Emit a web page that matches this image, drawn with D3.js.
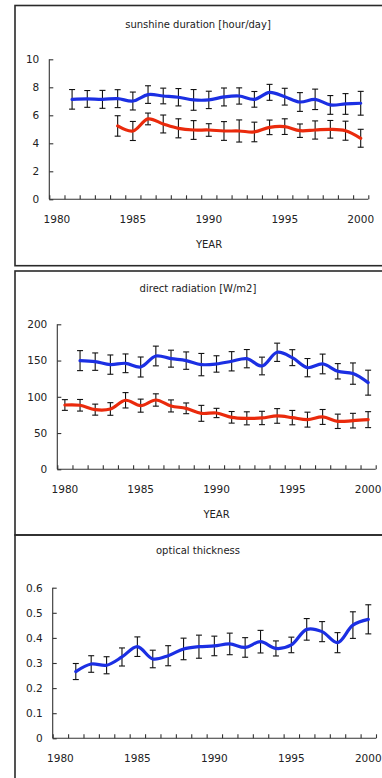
<!DOCTYPE html>
<html>
<head>
<meta charset="utf-8">
<script src="https://cdn.jsdelivr.net/npm/d3@7"></script>
<style>
	body { margin: 0; background: #fff; }
	svg { display: block; }
	text { font-family: 'DejaVu Sans', sans-serif; fill: #222; }
</style>
</head>
<body>
<svg id="chart" width="382" height="778"></svg>
<script>

// categories (Excel style category axis, 1980..2000)
var years = [1980, 1981, 1982, 1983, 1984, 1985, 1986, 1987, 1988, 1989, 1990,
	1991, 1992, 1993, 1994, 1995, 1996, 1997, 1998, 1999, 2000]
var yearLabels = [1980, 1985, 1990, 1995, 2000]

// sunshine duration [hour/day]
var sunBlue = [null, 7.14, 7.17, 7.14, 7.19, 7.02, 7.48, 7.38, 7.29, 7.10, 7.10,
	7.31, 7.38, 7.14, 7.64, 7.33, 6.95, 7.14, 6.74, 6.81, 6.86]
var sunBlueErr = [null, 0.70, 0.60, 0.64, 0.64, 0.64, 0.63, 0.56, 0.62, 0.74, 0.62,
	0.64, 0.58, 0.56, 0.57, 0.60, 0.67, 0.73, 0.67, 0.74, 0.85]
var sunRed = [null, null, null, null, 5.24, 4.88, 5.74, 5.38, 5.07, 4.95, 4.95,
	4.88, 4.88, 4.81, 5.14, 5.19, 4.90, 4.95, 5.00, 4.90, 4.36]
var sunRedErr = [null, null, null, null, 0.73, 0.68, 0.42, 0.64, 0.68, 0.67, 0.45,
	0.67, 0.79, 0.70, 0.52, 0.56, 0.48, 0.65, 0.63, 0.68, 0.64]
var sunTicks = [0, 2, 4, 6, 8, 10]

// direct radiation [W/m2]
var radBlue = [null, 149.9, 148.5, 144.4, 146.2, 141.1, 156.3, 152.6, 149.9, 144.4, 145.3,
	149.0, 152.6, 142.5, 161.4, 154.0, 140.2, 145.3, 135.2, 132.0, 119.5]
var radBlueErr = [null, 13.8, 12.0, 13.3, 12.9, 13.8, 13.6, 11.7, 12.0, 15.4, 11.3,
	13.3, 12.6, 12.2, 12.6, 11.0, 12.6, 13.6, 10.6, 14.7, 17.2]
var radRed = [88.7, 88.3, 82.3, 83.2, 95.2, 87.8, 95.6, 87.4, 84.1, 77.2, 77.7,
	71.7, 70.3, 70.8, 73.6, 71.3, 68.5, 72.2, 66.2, 67.1, 68.5]
var radRedErr = [7.4, 8.0, 7.6, 8.7, 10.6, 9.0, 8.5, 8.3, 7.4, 11.0, 6.4,
	8.0, 9.0, 9.2, 10.1, 9.9, 10.3, 10.3, 9.9, 10.1, 11.0]
var radTicks = [0, 50, 100, 150, 200]

// optical thickness
var optBlue = [null, 0.266, 0.296, 0.291, 0.324, 0.365, 0.316, 0.329, 0.356, 0.365, 0.368,
	0.376, 0.362, 0.385, 0.358, 0.372, 0.434, 0.425, 0.381, 0.451, 0.474]
var optBlueErr = [null, 0.032, 0.033, 0.034, 0.036, 0.039, 0.035, 0.040, 0.043, 0.046, 0.039,
	0.043, 0.039, 0.045, 0.030, 0.031, 0.043, 0.040, 0.040, 0.053, 0.058]
var optTicks = [0, 0.1, 0.2, 0.3, 0.4, 0.5, 0.6]

var BLUE = '#1b2fe3'
var RED = '#ea2a0c'

var svg = d3.select('#chart')

var draw_panel = function(p)
{
	// frame of the panel
	svg.append('rect')
		.attr('x', 15).attr('y', p.boxTop)
		.attr('width', 400).attr('height', p.boxBottom - p.boxTop)
		.attr('fill', 'none').attr('stroke', '#2a2a2a').attr('stroke-width', 1.6)

	svg.append('text')
		.attr('x', 198).attr('y', p.titleY)
		.attr('text-anchor', 'middle')
		.style('font-size', '10px')
		.text(p.title)

	var x = d3.scaleBand().domain(years).range([p.left, p.right]).padding(0)
	var xEdge = d3.scaleLinear().domain([0, years.length]).range([p.left, p.right])
	var y = d3.scaleLinear().domain([0, p.yTicks[p.yTicks.length - 1]]).range([p.bottom, p.top])

	var g = svg.append('g')

	// x axis: tick marks between categories, labels every 5 years
	var xAxis = g.append('g')
		.attr('transform', 'translate(0,' + p.bottom + ')')
		.call(d3.axisBottom(xEdge).tickValues(d3.range(0, years.length + 1)).tickSize(-4).tickFormat(''))
	xAxis.select('.domain').attr('d', 'M' + p.left + ',0H' + p.right)

	var xLab = g.append('g')
		.attr('transform', 'translate(0,' + p.bottom + ')')
		.call(d3.axisBottom(x).tickValues(yearLabels).tickSize(0).tickPadding(16))
	xLab.select('.domain').remove()

	var yAxis = g.append('g')
		.attr('transform', 'translate(' + p.left + ',0)')
		.call(d3.axisLeft(y).tickValues(p.yTicks).tickSize(-4).tickPadding(10).tickFormat(d3.format('')))
	yAxis.select('.domain').attr('d', 'M0,' + p.top + 'V' + p.bottom)

	g.selectAll('.tick line, .domain').attr('stroke', '#333').attr('stroke-width', 1.1)
	g.selectAll('.tick text').style('font-size', '10.5px').attr('fill', '#222').style('font-family', "'DejaVu Sans', sans-serif")

	if (p.xTitleY)
	{
		svg.append('text')
			.attr('x', p.xTitleX).attr('y', p.xTitleY)
			.attr('text-anchor', 'middle')
			.style('font-size', '10px')
			.text('YEAR')
	}

	var cx = function(i) { return x(years[i]) + x.bandwidth() / 2 }

	p.series.forEach(function(s)
	{
		var pts = []
		for (var i = 0; i < years.length; i++)
		{
			if (s.values[i] == null) continue
			pts.push({i: i, v: s.values[i], e: s.err[i]})
		}

		// error bars
		var bars = g.append('g')
		bars.selectAll('line.bar').data(pts).enter().append('line')
			.attr('x1', d => cx(d.i)).attr('x2', d => cx(d.i))
			.attr('y1', d => y(d.v - d.e)).attr('y2', d => y(d.v + d.e))
			.attr('stroke', '#111').attr('stroke-width', 1.1)
		bars.selectAll('line.capt').data(pts).enter().append('line')
			.attr('x1', d => cx(d.i) - 3).attr('x2', d => cx(d.i) + 3)
			.attr('y1', d => y(d.v + d.e)).attr('y2', d => y(d.v + d.e))
			.attr('stroke', '#111').attr('stroke-width', 1.1)
		bars.selectAll('line.capb').data(pts).enter().append('line')
			.attr('x1', d => cx(d.i) - 3).attr('x2', d => cx(d.i) + 3)
			.attr('y1', d => y(d.v - d.e)).attr('y2', d => y(d.v - d.e))
			.attr('stroke', '#111').attr('stroke-width', 1.1)

		var line = d3.line()
			.x(d => cx(d.i))
			.y(d => y(d.v))
			.curve(d3.curveCatmullRom.alpha(0.5))

		g.append('path')
			.datum(pts)
			.attr('d', line)
			.attr('fill', 'none')
			.attr('stroke', s.color)
			.attr('stroke-width', 3.2)
			.attr('stroke-linejoin', 'round')
			.attr('stroke-linecap', 'round')
	})
}

draw_panel({
	boxTop: 5.5, boxBottom: 265.7,
	title: 'sunshine duration [hour/day]', titleY: 27.5,
	left: 49.3, right: 368.3, top: 59.3, bottom: 199.3,
	yTicks: sunTicks,
	xTitleX: 209, xTitleY: 247.5,
	series: [
		{values: sunBlue, err: sunBlueErr, color: BLUE},
		{values: sunRed, err: sunRedErr, color: RED}
	]
})

draw_panel({
	boxTop: 271, boxBottom: 535,
	title: 'direct radiation [W/m2]', titleY: 291.7,
	left: 57.3, right: 375.7, top: 324.3, bottom: 469.3,
	yTicks: radTicks,
	xTitleX: 216.5, xTitleY: 518.3,
	series: [
		{values: radBlue, err: radBlueErr, color: BLUE},
		{values: radRed, err: radRedErr, color: RED}
	]
})

draw_panel({
	boxTop: 535, boxBottom: 800,
	title: 'optical thickness', titleY: 554.3,
	left: 52.7, right: 376, top: 587.7, bottom: 738.3,
	yTicks: optTicks,
	series: [
		{values: optBlue, err: optBlueErr, color: BLUE}
	]
})

</script>
</body>
</html>
